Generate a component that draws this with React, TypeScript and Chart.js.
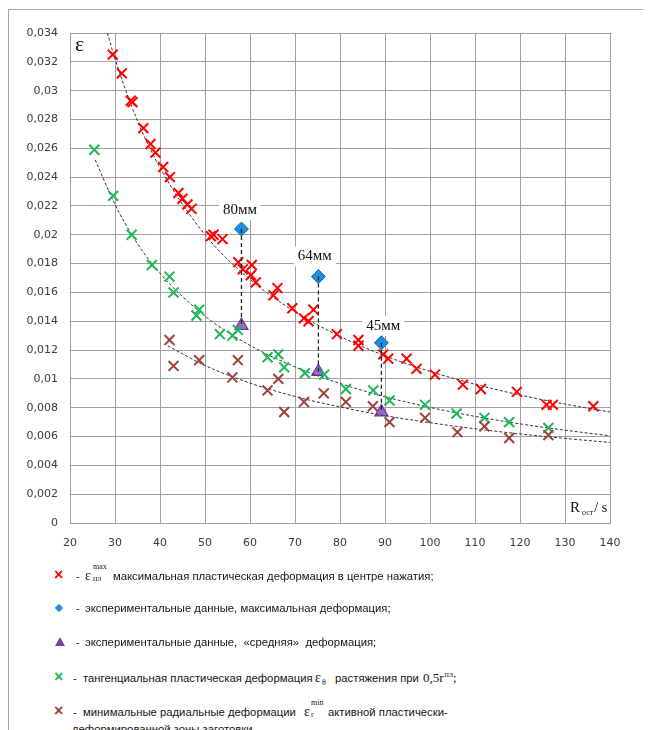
import React, { useEffect, useRef } from "react";
import { Chart, registerables } from "chart.js";
Chart.register(...registerables);

// ---- axis ticks ----
const xTickValues = [20, 30, 40, 50, 60, 70, 80, 90, 100, 110, 120, 130, 140];
const yTickValues = [0, 0.002, 0.004, 0.006, 0.008, 0.01, 0.012, 0.014, 0.016, 0.018, 0.02, 0.022, 0.024, 0.026, 0.028, 0.03, 0.032, 0.034];
const yTickLabels = ["0", "0,002", "0,004", "0,006", "0,008", "0,01", "0,012", "0,014", "0,016", "0,018", "0,02", "0,022", "0,024", "0,026", "0,028", "0,03", "0,032", "0,034"];

// ---- red: max plastic deformation at center ----
const redX = [29.5, 31.5, 33.5, 33.9, 36.3, 37.9, 39.0, 40.7, 42.2, 44.1, 45.0, 46.1, 47.0, 51.3, 51.9, 53.9, 57.4, 58.4, 60.4, 60.2, 61.3, 66.1, 65.2, 69.4, 72.0, 73.0, 74.1, 79.3, 84.1, 84.1, 89.6, 90.7, 94.8, 97.0, 101.1, 107.3, 111.3, 119.3, 125.9, 127.3, 136.3];
const redY = [0.0325, 0.0312, 0.0293, 0.0292, 0.0274, 0.0263, 0.0257, 0.0247, 0.0240, 0.0229, 0.0225, 0.0221, 0.0218, 0.0199, 0.0200, 0.0197, 0.0181, 0.0176, 0.0179, 0.0172, 0.0167, 0.0163, 0.0158, 0.0149, 0.0142, 0.0140, 0.0148, 0.0131, 0.0127, 0.0123, 0.0117, 0.0114, 0.0114, 0.0107, 0.0103, 0.0096, 0.0093, 0.0091, 0.0082, 0.0082, 0.0081];

// ---- green: tangential plastic deformation ----
const greenX = [25.4, 29.6, 33.7, 38.2, 42.1, 43.0, 48.7, 48.1, 53.3, 56.1, 57.3, 63.9, 66.3, 67.6, 72.2, 76.5, 81.3, 87.4, 91.0, 98.9, 105.9, 112.1, 117.6, 126.3];
const greenY = [0.0259, 0.0227, 0.0200, 0.0179, 0.0171, 0.0160, 0.0148, 0.0144, 0.0131, 0.0130, 0.0134, 0.0115, 0.0117, 0.0108, 0.0104, 0.0103, 0.0093, 0.0092, 0.0085, 0.0082, 0.0076, 0.0073, 0.0070, 0.0066];

// ---- brown: minimal radial deformation ----
const brownX = [42.1, 43.0, 48.7, 56.1, 57.3, 63.9, 66.3, 67.6, 72.0, 76.4, 81.3, 87.3, 91.0, 98.9, 106.1, 112.1, 117.6, 126.3];
const brownY = [0.0127, 0.0109, 0.0113, 0.0101, 0.0113, 0.0092, 0.0100, 0.0077, 0.0084, 0.0090, 0.0084, 0.0081, 0.0070, 0.0073, 0.0063, 0.0067, 0.0059, 0.0061];

// ---- experimental data ----
const expX = [58.1, 75.2, 89.2];
const expMaxY = [0.0204, 0.0171, 0.0125];
const expMidY = [0.0137, 0.0105, 0.0077];
const expLabels = ["80мм", "64мм", "45мм"];
const expLabelX = [57.8, 74.4, 89.6];
const expLabelY = [0.0217, 0.0185, 0.01367];

// ---- trend lines ----
const redTrendX = [28.3, 30, 35, 40, 50, 60, 70, 80, 90, 100, 110, 120, 130, 140];
const redTrendY = [0.034, 0.0322, 0.0279, 0.02465, 0.0200, 0.0169, 0.01466, 0.01295, 0.0116, 0.01052, 0.00963, 0.00888, 0.00825, 0.0077];
const greenTrendX = [25.6, 30, 35, 40, 50, 60, 70, 80, 90, 100, 110, 120, 130, 140];
const greenTrendY = [0.0252, 0.0221, 0.01938, 0.01732, 0.01436, 0.01232, 0.01083, 0.00968, 0.00876, 0.00802, 0.0074, 0.00688, 0.00644, 0.00605];
const brownTrendX = [41.7, 50, 60, 70, 80, 90, 100, 110, 120, 130, 140];
const brownTrendY = [0.0123, 0.01093, 0.00971, 0.00878, 0.00805, 0.00745, 0.00696, 0.00654, 0.00618, 0.00587, 0.00559];

const zip = (xs: number[], ys: number[]) => xs.map((x, i) => ({ x, y: ys[i] }));

const labelPlugin = {
  id: "expLabels",
  beforeDatasetsDraw(chart: any) {
    const { ctx, scales } = chart;
    ctx.save();
    ctx.font = "15px 'Liberation Serif', 'Times New Roman', serif";
    ctx.textAlign = "center";
    ctx.textBaseline = "middle";
    expLabels.forEach((t, i) => {
      const px = scales.x.getPixelForValue(expLabelX[i]);
      const py = scales.y.getPixelForValue(expLabelY[i]);
      const w = ctx.measureText(t).width + 8;
      ctx.fillStyle = "#ffffff";
      ctx.fillRect(px - w / 2, py - 10, w, 20);
      ctx.fillStyle = "#111111";
      ctx.fillText(t, px, py);
    });
    ctx.restore();
  },
};

function ChartCanvas() {
  const ref = useRef<HTMLCanvasElement | null>(null);
  useEffect(() => {
    if (!ref.current) return;
    const crossDs = (data: any, color: string, label: string) => ({
      type: "scatter",
      label,
      data,
      pointStyle: "crossRot",
      pointRadius: 7,
      pointBorderWidth: 2,
      borderColor: color,
      backgroundColor: color,
      showLine: false,
    });
    const trendDs = (data: any) => ({
      type: "line",
      data,
      borderColor: "#333333",
      borderWidth: 1,
      borderDash: [3, 2],
      pointRadius: 0,
      tension: 0.4,
      cubicInterpolationMode: "monotone",
      fill: false,
    });
    const connectors = expX.map((x, i) => ({
      type: "line",
      data: [
        { x, y: expMaxY[i] },
        { x, y: expMidY[i] },
      ],
      borderColor: "#222222",
      borderWidth: 1.3,
      borderDash: [4, 3],
      pointRadius: 0,
      fill: false,
    }));
    const chart = new Chart(ref.current, {
      type: "scatter",
      data: {
        datasets: [
          ...connectors,
          crossDs(zip(brownX, brownY), "#a0403c", "brown"),
          crossDs(zip(greenX, greenY), "#1db954", "green"),
          crossDs(zip(redX, redY), "#ff0000", "red"),
          trendDs(zip(redTrendX, redTrendY)),
          trendDs(zip(greenTrendX, greenTrendY)),
          trendDs(zip(brownTrendX, brownTrendY)),
          {
            type: "scatter",
            data: zip(expX, expMaxY),
            pointStyle: "rectRot",
            pointRadius: 7,
            pointBorderWidth: 1,
            borderColor: "#1a5fa8",
            backgroundColor: "#1e8ee0",
          },
          {
            type: "scatter",
            data: zip(expX, expMidY),
            pointStyle: "triangle",
            pointRadius: 7.5,
            pointBorderWidth: 1.2,
            borderColor: "#6a35a0",
            backgroundColor: "#a066cc",
          },
        ] as any,
      },
      options: {
        animation: false,
        responsive: false,
        maintainAspectRatio: false,
        layout: { padding: { top: 25, right: 41, left: 0, bottom: 0 } },
        plugins: { legend: { display: false }, tooltip: { enabled: false } },
        scales: {
          x: {
            type: "linear",
            min: 20,
            max: 140,
            afterBuildTicks: (s: any) => {
              s.ticks = xTickValues.map((v) => ({ value: v }));
            },
            afterFit: (s: any) => {
              s.height = 45;
            },
            grid: { color: "#a0a0a0", lineWidth: 1, drawTicks: false },
            border: { color: "#a0a0a0" },
            ticks: {
              padding: 14,
              color: "#3a3a48",
              font: { family: "'DejaVu Sans', sans-serif", size: 11 },
              callback: (v: any) => String(v),
            },
          },
          y: {
            type: "linear",
            min: 0,
            max: 0.034,
            afterBuildTicks: (s: any) => {
              s.ticks = yTickValues.map((v) => ({ value: v }));
            },
            afterFit: (s: any) => {
              s.width = 62;
            },
            grid: { color: "#a0a0a0", lineWidth: 1, drawTicks: false },
            border: { color: "#a0a0a0" },
            ticks: {
              padding: 12,
              color: "#3a3a48",
              font: { family: "'DejaVu Sans', sans-serif", size: 11 },
              callback: (_v: any, i: number) => yTickLabels[i],
            },
          },
        },
      },
      plugins: [labelPlugin],
    } as any);
    return () => chart.destroy();
  }, []);
  return <canvas ref={ref} width={643} height={560} style={{ position: "absolute", left: 0, top: 0, width: 643, height: 560 }} />;
}

const serif = "'Liberation Serif', 'Times New Roman', serif";
const sans = "'Liberation Sans', Arial, sans-serif";

const Cross = ({ color }: { color: string }) => (
  <span style={{ position: "absolute", left: -5, top: -1, color, fontFamily: sans, fontWeight: "bold", fontSize: 16, lineHeight: "16px" }}>×</span>
);

export default function App() {
  useEffect(() => {
    document.documentElement.style.overflow = "hidden";
    document.body.style.overflow = "hidden";
  }, []);
  const row = (top: number): React.CSSProperties => ({
    position: "absolute",
    top,
    left: 0,
    height: 16,
    lineHeight: "16px",
    fontFamily: sans,
    fontSize: 11.3,
    color: "#151515",
    whiteSpace: "nowrap",
  });
  const abs = (left: number, extra: React.CSSProperties = {}): React.CSSProperties => ({ position: "absolute", left, top: 0, lineHeight: "16px", ...extra });
  const small: React.CSSProperties = { fontFamily: serif, fontSize: 8, lineHeight: 0, position: "relative" };
  return (
    <div style={{ position: "relative", width: 643, height: 722, overflow: "hidden", background: "#fff" }}>
      <div style={{ position: "absolute", left: 0, top: 1, width: 660, height: 1, background: "#a6a6a6" }} />
      <div style={{ position: "absolute", left: 0, top: 1, width: 1, height: 721, background: "#a6a6a6" }} />
      <ChartCanvas />
      {/* axis titles */}
      <div style={{ position: "absolute", left: 67, top: 24, fontFamily: serif, fontSize: 22, color: "#111", lineHeight: "24px" }}>ε</div>
      <div style={{ position: "absolute", left: 562, top: 490, fontFamily: serif, fontSize: 15, color: "#111", lineHeight: "18px", whiteSpace: "nowrap" }}>
        R<span style={{ fontSize: 8, position: "relative", top: 3, marginLeft: 2, marginRight: 1 }}>ост</span><span style={{ fontSize: 14 }}>/ s</span>
      </div>
      {/* legend */}
      <div style={row(560)}>
        <span style={abs(51)}><Cross color="#ff0000" /></span>
        <span style={abs(68)}>-</span>
        <span style={abs(77, { fontFamily: serif, fontSize: 14 })}>
          ε
          <span style={{ position: "absolute", left: 8, top: -5, fontSize: 8, lineHeight: "8px" }}>max</span>
          <span style={{ position: "absolute", left: 8, top: 7, fontSize: 8, lineHeight: "8px" }}>пл</span>
        </span>
        <span style={abs(105)}>максимальная пластическая деформация в центре нажатия;</span>
      </div>
      <div style={row(592)}>
        <span style={abs(48, { top: 5, width: 6, height: 6, background: "#1e8ee0", transform: "rotate(45deg)" })} />
        <span style={abs(68)}>-</span>
        <span style={abs(77)}>экспериментальные данные, максимальная деформация;</span>
      </div>
      <div style={row(626)}>
        <span style={abs(47, { top: 3, width: 0, height: 0, borderLeft: "5px solid transparent", borderRight: "5px solid transparent", borderBottom: "9px solid #7a3fb0" })} />
        <span style={abs(68)}>-</span>
        <span style={abs(77)}>экспериментальные данные,&nbsp; «средняя»&nbsp; деформация;</span>
      </div>
      <div style={row(662)}>
        <span style={abs(51)}><Cross color="#1db954" /></span>
        <span style={abs(65)}>-</span>
        <span style={abs(75)}>тангенциальная пластическая деформация</span>
        <span style={abs(307, { fontFamily: serif, fontSize: 14 })}>
          ε<span style={{ ...small, top: 3, marginLeft: 1 }}>θ</span>
        </span>
        <span style={abs(327)}>растяжения при</span>
        <span style={abs(415, { fontFamily: serif, fontSize: 13 })}>
          0,5r<span style={{ ...small, top: -5, marginLeft: 1 }}>пл</span>;
        </span>
      </div>
      <div style={row(696)}>
        <span style={abs(51)}><Cross color="#a0403c" /></span>
        <span style={abs(65)}>-</span>
        <span style={abs(75)}>минимальные радиальные деформации</span>
        <span style={abs(296, { fontFamily: serif, fontSize: 14 })}>
          ε
          <span style={{ position: "absolute", left: 7, top: -5, fontSize: 8, lineHeight: "8px" }}>min</span>
          <span style={{ position: "absolute", left: 7, top: 7, fontSize: 8, lineHeight: "8px" }}>r</span>
        </span>
        <span style={abs(320)}>активной пластически-</span>
      </div>
      <div style={row(713)}>
        <span style={abs(64)}>деформированной зоны заготовки.</span>
      </div>
    </div>
  );
}
